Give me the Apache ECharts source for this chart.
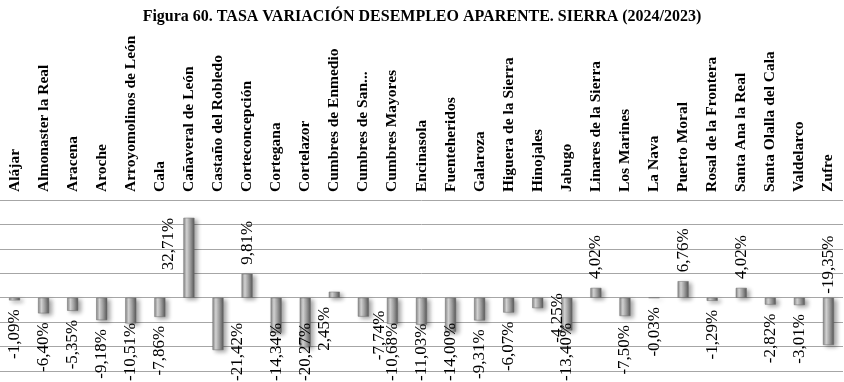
<!doctype html>
<html>
    <head>
        <meta charset="utf-8">
        <title>Figura 60</title>
        <style>
            html, body { margin: 0; padding: 0; background: #fff; }
            #main { width: 844px; height: 382px; }
        </style>
    </head>
    <body>
        <div id="main"></div>
        <script src="https://cdn.jsdelivr.net/npm/echarts@6/dist/echarts.min.js"></script>
        <script>
            var municipios = [
                'Alájar', 'Almonaster la Real', 'Aracena', 'Aroche', 'Arroyomolinos de León',
                'Cala', 'Cañaveral de León', 'Castaño del Robledo', 'Corteconcepción', 'Cortegana',
                'Cortelazor', 'Cumbres de Enmedio', 'Cumbres de San...', 'Cumbres Mayores', 'Encinasola',
                'Fuenteheridos', 'Galaroza', 'Higuera de la Sierra', 'Hinojales', 'Jabugo',
                'Linares de la Sierra', 'Los Marines', 'La Nava', 'Puerto Moral', 'Rosal de la Frontera',
                'Santa Ana la Real', 'Santa Olalla del Cala', 'Valdelarco', 'Zufre'
            ];
            var tasa = [
                -1.09, -6.40, -5.35, -9.18, -10.51,
                -7.86, 32.71, -21.42, 9.81, -14.34,
                -20.27, 2.45, -7.74, -10.68, -11.03,
                -14.00, -9.31, -6.07, -4.25, -13.40,
                4.02, -7.50, -0.03, 6.76, -1.29,
                4.02, -2.82, -3.01, -19.35
            ];
            var ejeMin = -30, ejeMax = 40, ejeStep = 10;

            var serif = '"Liberation Serif", "DejaVu Serif", serif';

            // labels that were placed by hand in the original
            var ajustes = {
                'Cañaveral de León': { position: [-6, 0], align: 'right', verticalAlign: 'bottom' },
                'Cumbres de Enmedio': { position: 'bottom', align: 'right' },
                'Zufre': { position: 'top', align: 'left', distance: 4 }
            };
            var empujes = {
                'Castaño del Robledo': [20, 0],
                'Cumbres de Enmedio': [-10, 0],
                'Cumbres de San...': [16, -15],
                'Hinojales': [20, -24]
            };

            var barColor = new echarts.graphic.LinearGradient(0, 0, 1, 0, [
                { offset: 0, color: '#858585' },
                { offset: 0.3, color: '#d8d8d8' },
                { offset: 0.6, color: '#a2a2a2' },
                { offset: 1, color: '#555555' }
            ]);

            var datos = tasa.map(function (v, i) {
                var lab = {
                    position: 'outside',
                    align: v >= 0 ? 'left' : 'right',
                    verticalAlign: 'middle'
                };
                var extra = ajustes[municipios[i]];
                if (extra) {
                    for (var k in extra) lab[k] = extra[k];
                }
                return { value: v, label: lab };
            });

            var chart = echarts.init(document.getElementById('main'));
            chart.setOption({
                backgroundColor: '#fff',
                animation: false,
                title: {
                    text: 'Figura 60. TASA VARIACIÓN DESEMPLEO APARENTE. SIERRA (2024/2023)',
                    left: 'center',
                    top: 4,
                    textStyle: {
                        fontFamily: serif,
                        fontWeight: 'bold',
                        fontSize: 16,
                        color: '#000'
                    }
                },
                grid: {
                    left: 0,
                    right: 1,
                    top: 200,
                    bottom: 11,
                    containLabel: false
                },
                xAxis: {
                    type: 'category',
                    position: 'top',
                    data: municipios,
                    axisLine: { show: false },
                    axisTick: { show: false },
                    axisLabel: {
                        interval: 0,
                        rotate: 90,
                        margin: 8,
                        fontFamily: serif,
                        fontWeight: 'bold',
                        fontSize: 15.5,
                        color: '#000'
                    }
                },
                yAxis: {
                    type: 'value',
                    min: ejeMin,
                    max: ejeMax,
                    interval: ejeStep,
                    axisLabel: { show: false },
                    axisLine: { show: false },
                    axisTick: { show: false },
                    splitLine: { lineStyle: { color: '#a6a6a6', width: 1 } }
                },
                series: [{
                    type: 'bar',
                    data: datos,
                    barWidth: 11,
                    itemStyle: {
                        color: barColor,
                        borderColor: '#6e6e6e',
                        borderWidth: 0.5,
                        shadowColor: 'rgba(0,0,0,0.35)',
                        shadowBlur: 4,
                        shadowOffsetX: 3,
                        shadowOffsetY: 2
                    },
                    label: {
                        show: true,
                        rotate: 90,
                        distance: 9,
                        fontFamily: serif,
                        fontSize: 17,
                        color: '#000',
                        formatter: function (p) {
                            return p.value.toFixed(2).replace('.', ',') + '%';
                        }
                    },
                    labelLayout: function (p) {
                        var r = p.labelRect;
                        var h = chart.getHeight();
                        var d = empujes[municipios[p.dataIndex]] || [0, 0];
                        var cx = r.x + r.width / 2 + d[0];
                        var cy = r.y + r.height / 2 + d[1];
                        if (cy + r.height / 2 > h - 1) {
                            cy = h - 1 - r.height / 2;
                        }
                        return { x: cx, y: cy, align: 'center', verticalAlign: 'middle' };
                    }
                }]
            });
        </script>
    </body>
</html>
